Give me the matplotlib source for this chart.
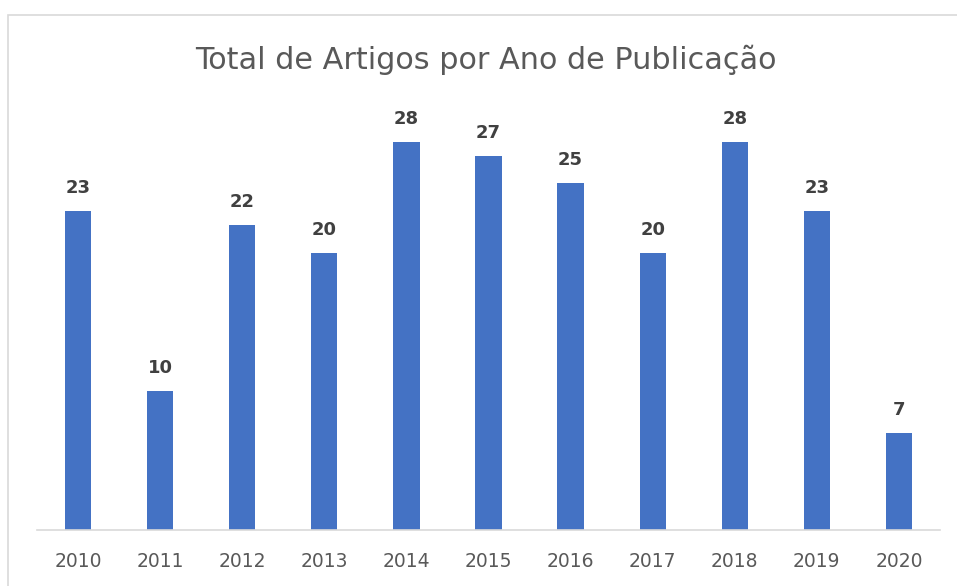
import matplotlib.pyplot as plt
from matplotlib.patches import Rectangle

anos = ['2010', '2011', '2012', '2013', '2014', '2015', '2016', '2017', '2018', '2019', '2020']
artigos = [23, 10, 22, 20, 28, 27, 25, 20, 28, 23, 7]

fig = plt.figure(figsize=(9.57, 5.86), dpi=100)
ax = fig.add_axes([0.0387, 0.0956, 0.9435, 0.71])

x = range(len(anos))
bars = ax.bar(x, artigos, width=0.32, color='#4472C4')
for b, v in zip(bars, artigos):
    ax.text(b.get_x() + b.get_width() / 2, v + 1.0, str(v), ha='center', va='bottom',
            fontsize=13, fontweight='bold', color='#404040', clip_on=False)

ax.set_xlim(-0.5, len(anos) - 0.5)
ax.set_ylim(0, 30)
ax.set_xticks(list(x))
ax.set_xticklabels(anos, fontsize=13.5, color='#595959')
ax.tick_params(axis='x', length=0, pad=16)
ax.set_yticks([])
for s in ['top', 'right', 'left']:
    ax.spines[s].set_visible(False)
ax.spines['bottom'].set_color('#D9D9D9')
ax.spines['bottom'].set_linewidth(1.2)

fig.text(0.508, 0.898, 'Total de Artigos por Ano de Publicação', ha='center', va='center',
         fontsize=21.8, color='#595959')

# moldura do gráfico
fig.patches.append(Rectangle((8 / 957, -0.1), 1.2, 1 - 15 / 586 + 0.1, transform=fig.transFigure,
                             fill=False, edgecolor='#D9D9D9', linewidth=1.2))

fig.savefig('out.png', dpi=100)
